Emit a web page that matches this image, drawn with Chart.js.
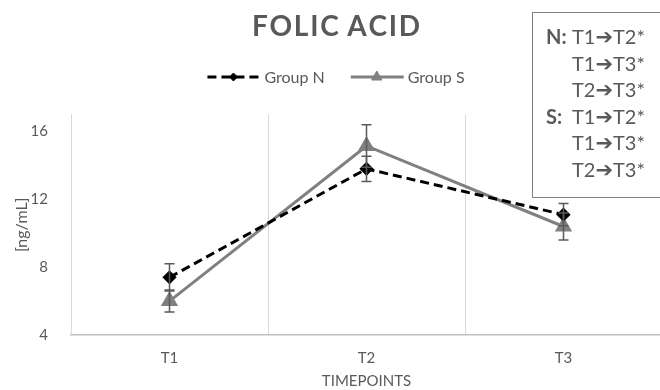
<!DOCTYPE html>
<html>
<head>
<meta charset="utf-8">
<script src="https://cdn.jsdelivr.net/npm/chart.js@4.4.0/dist/chart.umd.min.js"></script>
<style>
  body { margin: 0; background: #fff; }
  #wrap { position: relative; width: 660px; height: 390px; overflow: hidden; }
  #chart { position: absolute; left: 0; top: 0; }
  #notes {
    position: absolute; left: 532px; top: 12px; width: 150px; height: 186px;
    border: 1.5px solid #808080; box-sizing: border-box;
    font-family: Lato, sans-serif; font-size: 20px; color: #595959;
    line-height: 26.6px; padding: 10px 0 0 13px;
  }
  #notes div { height: 26.6px; white-space: nowrap; }
  #notes .lab { display: inline-block; width: 26px; font-weight: bold; }
  #notes .arr { font-family: "DejaVu Sans", sans-serif; font-size: 21px; line-height: 1; vertical-align: 0; }
</style>
</head>
<body>
<div id="wrap">
  <canvas id="chart" width="672" height="390"></canvas>
  <div id="notes"></div>
</div>
<script>
const timepoints = ['T1', 'T2', 'T3'];
const groupN = [7.4, 13.8, 11.1];
const groupS = [6.0, 15.15, 10.4];
const errN = [0.8, 0.75, 0.65];
const errS = [0.65, 1.25, 0.8];
const yTicks = [4, 8, 12, 16];
const sigN = ['T1→T2*', 'T1→T3*', 'T2→T3*'];
const sigS = ['T1→T2*', 'T1→T3*', 'T2→T3*'];

// significance box
const notes = document.getElementById('notes');
function addLines(label, lines) {
    lines.forEach((t, i) => {
        const row = document.createElement('div');
        const lab = document.createElement('span');
        lab.className = 'lab';
        lab.textContent = i === 0 ? label : '';
        row.appendChild(lab);
        const parts = t.split('→');
        row.appendChild(document.createTextNode(parts[0]));
        const a = document.createElement('span');
        a.className = 'arr';
        a.textContent = '➔';
        row.appendChild(a);
        row.appendChild(document.createTextNode(parts[1]));
        notes.appendChild(row);
    });
}
addLines('N:', sigN);
addLines('S:', sigS);

const FONT = 'Lato, sans-serif';
const GREY = '#595959';

const errorBars = {
    id: 'errorBars',
    afterDatasetsDraw(chart) {
        const ctx = chart.ctx;
        const y = chart.scales.y;
        chart.data.datasets.forEach((ds, i) => {
            const meta = chart.getDatasetMeta(i);
            meta.data.forEach((pt, j) => {
                const v = ds.data[j], e = ds.errors[j];
                const top = y.getPixelForValue(v + e);
                const bot = y.getPixelForValue(v - e);
                ctx.save();
                ctx.strokeStyle = GREY;
                ctx.lineWidth = 1.5;
                ctx.beginPath();
                ctx.moveTo(pt.x, top); ctx.lineTo(pt.x, bot);
                ctx.moveTo(pt.x - 5, top); ctx.lineTo(pt.x + 5, top);
                ctx.moveTo(pt.x - 5, bot); ctx.lineTo(pt.x + 5, bot);
                ctx.stroke();
                ctx.restore();
            });
        });
    }
};

const customLegend = {
    id: 'customLegend',
    afterDraw(chart) {
        const ctx = chart.ctx;
        const ly = 77;
        ctx.save();
        ctx.font = '16px ' + FONT;
        const items = chart.data.datasets.map(ds => ({ ds, w: 53 + 4 + ctx.measureText(ds.label).width }));
        const gap = 26;
        const total = items.reduce((s, it) => s + it.w, 0) + gap * (items.length - 1);
        let x = chart.width / 2 - total / 2;
        items.forEach(({ ds, w }) => {
            ctx.strokeStyle = ds.borderColor;
            ctx.lineWidth = ds.borderWidth;
            ctx.setLineDash(ds.borderDash || []);
            ctx.beginPath();
            ctx.moveTo(x, ly); ctx.lineTo(x + 53, ly);
            ctx.stroke();
            ctx.setLineDash([]);
            ctx.fillStyle = ds.pointBackgroundColor;
            ctx.strokeStyle = ds.pointBackgroundColor;
            ctx.lineWidth = 1;
            Chart.helpers.drawPoint(ctx, { pointStyle: ds.pointStyle, radius: ds.pointRadius - 1, rotation: 0, borderWidth: 1 }, x + 26, ly);
            ctx.fillStyle = GREY;
            ctx.textBaseline = 'middle';
            ctx.textAlign = 'left';
            ctx.fillText(ds.label, x + 57, ly + 1);
            x += w + gap;
        });
        ctx.restore();
    }
};

new Chart(document.getElementById('chart'), {
    type: 'line',
    data: {
        labels: timepoints,
        datasets: [
            {
                label: 'Group N',
                data: groupN,
                errors: errN,
                borderColor: '#000000',
                borderWidth: 3,
                borderDash: [9, 5],
                pointStyle: 'rectRot',
                pointRadius: 5,
                pointBackgroundColor: '#000000',
                pointBorderColor: '#000000',
                tension: 0
            },
            {
                label: 'Group S',
                data: groupS,
                errors: errS,
                borderColor: '#808080',
                borderWidth: 3,
                pointStyle: 'triangle',
                pointRadius: 7,
                pointBackgroundColor: '#808080',
                pointBorderColor: '#808080',
                tension: 0
            }
        ]
    },
    options: {
        responsive: false,
        animation: false,
        layout: { padding: 0 },
        plugins: {
            legend: { display: false },
            tooltip: { enabled: false },
            title: {
                display: true,
                text: 'F O L I C  A C I D'.replace(/ (?! )/g, '\u200A'),
                color: GREY,
                font: { family: FONT, size: 28, weight: 'bold' },
                padding: { top: 10, bottom: 71 }
            }
        },
        scales: {
            x: {
                type: 'category',
                offset: true,
                grid: { offset: true, color: '#d9d9d9', drawTicks: false },
                border: { color: '#bfbfbf', width: 1.5 },
                ticks: { color: GREY, font: { family: FONT, size: 15 }, padding: 14 },
                title: { display: true, text: 'TIMEPOINTS', color: GREY, font: { family: FONT, size: 15 }, padding: { top: 3, bottom: 0 } },
                afterFit(scale) { scale.height = 55; }
            },
            y: {
                min: 4,
                max: 17,
                grid: { display: false },
                border: { color: '#d9d9d9' },
                afterBuildTicks(scale) { scale.ticks = yTicks.map(v => ({ value: v })); },
                ticks: { color: GREY, font: { family: FONT, size: 15 }, padding: 15 },
                title: { display: true, text: '[ng/mL]', color: GREY, font: { family: FONT, size: 16 }, padding: { top: 12, bottom: 0 } },
                afterFit(scale) { scale.width = 71; }
            }
        }
    },
    plugins: [errorBars, customLegend]
});
</script>
</body>
</html>
